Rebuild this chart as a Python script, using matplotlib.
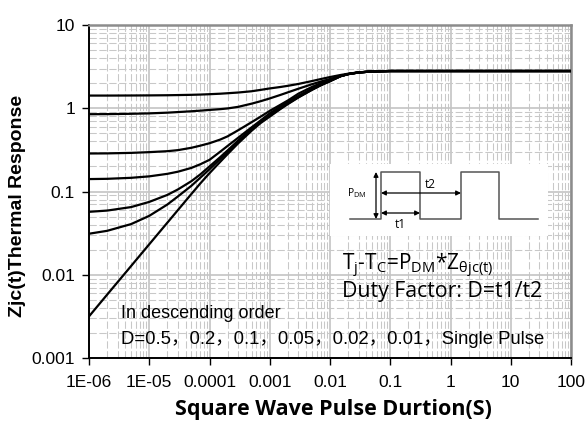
import matplotlib
matplotlib.use("Agg")
import matplotlib.pyplot as plt
from matplotlib.ticker import LogLocator, FixedLocator, NullFormatter

# ---- data ----
pulse_width = [1e-6, 2e-6, 5e-6, 1e-5, 2e-5, 3e-5, 5e-5, 7e-5, 1e-4, 1.5e-4,
               2e-4, 3e-4, 5e-4, 7e-4, 1e-3, 1.5e-3, 2e-3, 3e-3, 5e-3, 7e-3,
               1e-2, 1.5e-2, 2e-2, 3e-2, 5e-2, 0.1, 1, 10, 100]
z_d05 = [1.42, 1.42, 1.423, 1.427, 1.433, 1.44, 1.45, 1.46, 1.475, 1.495,
         1.515, 1.545, 1.60, 1.66, 1.73, 1.80, 1.86, 1.96, 2.12, 2.24,
         2.37, 2.51, 2.60, 2.70, 2.77, 2.80, 2.80, 2.80, 2.80]
z_d02 = [0.848, 0.850, 0.858, 0.868, 0.885, 0.90, 0.92, 0.935, 0.955, 0.975,
         0.995, 1.04, 1.135, 1.213, 1.312, 1.445, 1.553, 1.718, 1.941, 2.09,
         2.244, 2.43, 2.57, 2.69, 2.767, 2.80, 2.80, 2.80, 2.80]
z_d01 = [0.286, 0.287, 0.291, 0.297, 0.305, 0.314, 0.335, 0.355, 0.38, 0.42,
         0.46, 0.545, 0.68, 0.79, 0.93, 1.10, 1.24, 1.50, 1.80, 2.00,
         2.20, 2.44, 2.575, 2.695, 2.767, 2.80, 2.80, 2.80, 2.80]
z_d005 = [0.141, 0.142, 0.146, 0.152, 0.163, 0.173, 0.192, 0.212, 0.24, 0.30,
          0.353, 0.443, 0.59, 0.71, 0.87, 1.05, 1.19, 1.41, 1.71, 1.93,
          2.15, 2.436, 2.572, 2.694, 2.767, 2.80, 2.80, 2.80, 2.80]
z_d002 = [0.057, 0.059, 0.065, 0.075, 0.091, 0.106, 0.133, 0.160, 0.200, 0.258,
          0.312, 0.41, 0.565, 0.69, 0.824, 1.0135, 1.1556, 1.378, 1.683, 1.902,
          2.127, 2.432, 2.572, 2.693, 2.767, 2.80, 2.80, 2.80, 2.80]
z_d001 = [0.0311, 0.0337, 0.0406, 0.0510, 0.0698, 0.0874, 0.117, 0.146, 0.185, 0.245,
          0.300, 0.4042, 0.5596, 0.6824, 0.8141, 0.9952, 1.139, 1.363, 1.671, 1.893,
          2.120, 2.43, 2.571, 2.692, 2.767, 2.80, 2.80, 2.80, 2.80]
z_single = [0.00316, 0.00577, 0.01274, 0.02323, 0.04227, 0.05998, 0.0933, 0.1245, 0.166, 0.2265,
            0.2818, 0.380, 0.537, 0.661, 0.794, 0.977, 1.122, 1.349, 1.660, 1.884,
            2.113, 2.427, 2.570, 2.692, 2.767, 2.80, 2.80, 2.80, 2.80]
series = [z_d05, z_d02, z_d01, z_d005, z_d002, z_d001, z_single]

x_ticks = [1e-6, 1e-5, 1e-4, 1e-3, 1e-2, 0.1, 1, 10, 100]
x_ticklabels = ["1E-06", "1E-05", "0.0001", "0.001", "0.01", "0.1", "1", "10", "100"]
y_ticks = [0.001, 0.01, 0.1, 1, 10]
y_ticklabels = ["0.001", "0.01", "0.1", "1", "10"]

W, H = 588, 432
L, R, T, B = 89, 571, 25, 358

fig = plt.figure(figsize=(W / 100, H / 100), dpi=100)
ax = fig.add_axes([L / W, (H - B) / H, (R - L) / W, (B - T) / H])

for s in series:
    ax.plot(pulse_width, s, color="black", lw=1.6, solid_joinstyle="round", zorder=3)

ax.set_xscale("log")
ax.set_yscale("log")
ax.set_xlim(1e-6, 100)
ax.set_ylim(0.001, 10)

ax.xaxis.set_major_locator(FixedLocator(x_ticks))
ax.set_xticklabels(x_ticklabels)
ax.yaxis.set_major_locator(FixedLocator(y_ticks))
ax.set_yticklabels(y_ticklabels)
ax.xaxis.set_minor_locator(LogLocator(base=10, subs=range(2, 10), numticks=20))
ax.yaxis.set_minor_locator(LogLocator(base=10, subs=range(2, 10), numticks=20))
ax.xaxis.set_minor_formatter(NullFormatter())
ax.yaxis.set_minor_formatter(NullFormatter())

ax.grid(True, which="major", color="#c4c4c4", lw=1.2, ls="-", zorder=0)
ax.grid(True, which="minor", color="#c8c8c8", lw=0.75, ls=(0, (7, 2.5)), zorder=0)
ax.set_axisbelow(True)

ax.tick_params(which="major", direction="out", length=5, width=1, color="black",
               labelsize=12.5)
ax.tick_params(axis="x", which="major", pad=7.5)
ax.tick_params(axis="y", which="major", pad=5)
ax.tick_params(which="minor", length=0)
for lab in ax.get_xticklabels() + ax.get_yticklabels():
    lab.set_family("Liberation Sans")

for side in ("left", "bottom"):
    ax.spines[side].set_color("black")
    ax.spines[side].set_linewidth(1.4)
for side in ("top", "right"):
    ax.spines[side].set_color("#8c8c8c")
    ax.spines[side].set_linewidth(1.8)

fig.text(333 / W, 1 - 409 / H, "Square Wave Pulse Durtion(S)", ha="center", va="center",
         fontsize=15.5, fontweight="bold", family="Open Sans")
fig.text(18 / W, 1 - 206 / H, "Zjc(t)Thermal Response", ha="center", va="center",
         rotation=90, fontsize=14, fontweight="bold", family="Liberation Sans")


def px(x, y):
    return ((x - L) / (R - L), (B - y) / (B - T))


fam = ["Liberation Sans", "Noto Sans CJK SC"]
ax.text(*px(121, 313), "In descending order", transform=ax.transAxes, ha="left",
        va="center", fontsize=13, family=fam, zorder=5)
ax.text(*px(121, 339), "D=0.5，0.2，0.1，0.05，0.02，0.01，Single Pulse",
        transform=ax.transAxes, ha="left", va="center", fontsize=13.3, family=fam, zorder=5)
ax.text(*px(342, 266), r"T$_\mathregular{j}$-T$_\mathregular{C}$=P$_\mathregular{DM}$*Z$_\mathregular{θjc(t)}$",
        transform=ax.transAxes, ha="left", va="center", fontsize=15, family="Open Sans", zorder=5)
ax.text(*px(342, 292), "Duty Factor: D=t1/t2", transform=ax.transAxes, ha="left",
        va="center", fontsize=15.3, family="Open Sans", zorder=5)

# inset waveform diagram
bx0, by0, bx1, by1 = 330, 164, 548, 236
ins = fig.add_axes([bx0 / W, 1 - by1 / H, (bx1 - bx0) / W, (by1 - by0) / H])
ins.set_xlim(bx0, bx1)
ins.set_ylim(by1, by0)
ins.set_facecolor("white")
ins.axis("off")
ins.add_patch(plt.Rectangle((bx0, by0), bx1 - bx0, by1 - by0, color="white", zorder=0))
wave_x = [350, 381, 381, 420, 420, 461, 461, 499, 499, 538]
wave_y = [219, 219, 172, 172, 219, 219, 172, 172, 219, 219]
ins.plot(wave_x, wave_y, color="#555555", lw=1.1)
arr = dict(arrowstyle="<|-|>", color="black", lw=0.9, mutation_scale=7, shrinkA=0, shrinkB=0)
ins.annotate("", xy=(376, 172), xytext=(376, 219), arrowprops=arr)
ins.annotate("", xy=(381, 193), xytext=(461, 193), arrowprops=arr)
ins.annotate("", xy=(381, 213), xytext=(420, 213), arrowprops=arr)
ins.text(357, 193, r"P$_\mathregular{DM}$", ha="center", va="center", fontsize=7.5, family="Open Sans")
ins.text(430, 184, "t2", ha="center", va="center", fontsize=8.5, family="Open Sans")
ins.text(400, 224, "t1", ha="center", va="center", fontsize=8.5, family="Open Sans")

fig.savefig("out.png", dpi=100)
